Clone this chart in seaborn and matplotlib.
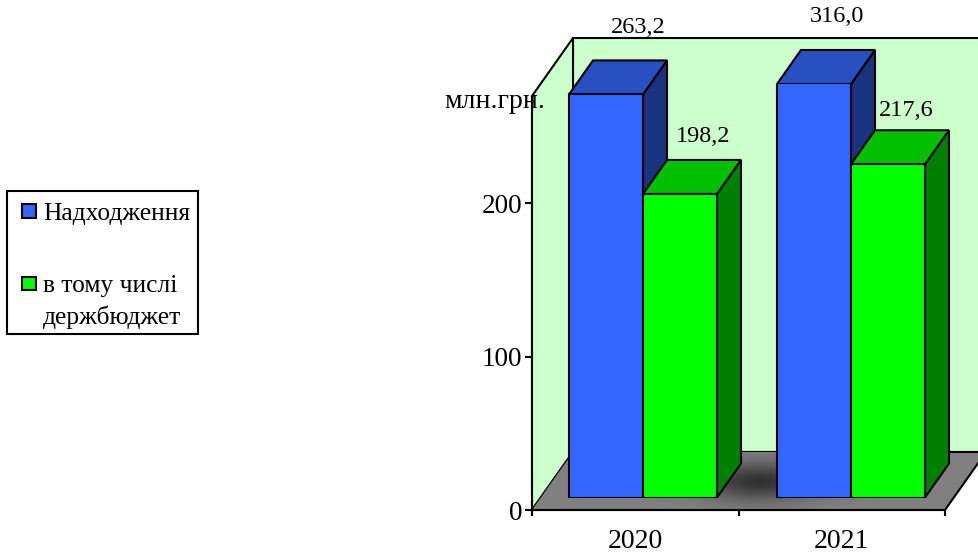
import numpy as np
import pandas as pd
import matplotlib
matplotlib.use("Agg")
import matplotlib.pyplot as plt
from matplotlib.patches import Polygon, Patch
import seaborn as sns

years = ["2020", "2021"]
series_names = ["Надходження", "в тому числі\nдержбюджет"]
income = [263.2, 316.0]
state_budget = [198.2, 217.6]
y_ticks = [0, 100, 200]
unit_label = "млн.грн."

Y_MAX = 270
W, H = 979, 554
sns.set_theme(style="white")
plt.rcParams["font.family"] = ["Liberation Serif", "DejaVu Serif"]
INK = "black"
LW = 1.5

df = pd.DataFrame({
    "year": years * 2,
    "series": [series_names[0]] * 2 + [series_names[1]] * 2,
    "value": income + state_budget,
})
fronts = {series_names[0]: "#3366FF", series_names[1]: "#00FF00"}
tops = {"#3366FF": "#2850C0", "#00FF00": "#00C000"}
sides = {"#3366FF": "#1A337F", "#00FF00": "#008000"}

fig = plt.figure(figsize=(W / 100, H / 100), dpi=100, facecolor="white")


def axes_box(l, bottom, r, top):
    return [l / W, 1 - bottom / H, (r - l) / W, (bottom - top) / H]


ax = fig.add_axes(axes_box(532, 510, 945, 96), zorder=1)
ax.set_xlim(-0.5, 1.5)
ax.set_ylim(0, Y_MAX)
ax.patch.set_visible(False)
px_x = 2 / (945 - 532)
px_y = Y_MAX / (510 - 96)

# walls and floor of the 3-D box
dx, dy = 41 * px_x, 58 * px_y
x0, x1 = -0.5, 1.5
back = Polygon([(x0 + dx, dy), (x1 + dx, dy), (x1 + dx, Y_MAX + dy), (x0 + dx, Y_MAX + dy)],
               fc="#CCFFCC", ec=INK, lw=LW, clip_on=False, zorder=1)
side = Polygon([(x0, 0), (x0 + dx, dy), (x0 + dx, Y_MAX + dy), (x0, Y_MAX)],
               fc="#CCFFCC", ec=INK, lw=LW, clip_on=False, zorder=1)
floor = Polygon([(x0, 0), (x1, 0), (x1 + dx, dy), (x0 + dx, dy)],
                fc="#808080", ec=INK, lw=LW, clip_on=False, zorder=2)
for p in (back, side, floor):
    ax.add_patch(p)

# dark shading on the floor
gx = np.linspace(x0, x1 + dx, 300)
gy = np.linspace(0, dy, 80)
GX, GY = np.meshgrid(gx, gy)
cx, cy = x0 + (760 - 532) * px_x, (510 - 482) * px_y
shade = 128 - 78 * np.exp(-(((GX - cx) / (60 * px_x)) ** 2 + ((GY - cy) / (18 * px_y)) ** 2))
img = ax.imshow(shade, cmap="gray", vmin=0, vmax=255, origin="lower", aspect="auto",
                extent=(gx[0], gx[-1], gy[0], gy[-1]), zorder=2.1, interpolation="bilinear")
img.set_clip_path(Polygon(floor.get_xy(), transform=ax.transData))
ax.set_xlim(-0.5, 1.5)
ax.set_ylim(0, Y_MAX)

# axes furniture
for s in ("top", "right"):
    ax.spines[s].set_visible(False)
for s in ("left", "bottom"):
    ax.spines[s].set_color(INK)
    ax.spines[s].set_linewidth(LW)
    ax.spines[s].set_zorder(5)
ax.set_xticks([-0.5, 0.5, 1.5])
ax.set_xticklabels([])
ax.set_xticks([0, 1], labels=years, minor=True)
ax.tick_params(axis="x", which="major", direction="out", length=4.5, width=LW, color=INK, bottom=True)
ax.tick_params(axis="x", which="minor", length=0, labelsize=20, pad=14, labelcolor=INK, bottom=True)
ax.set_yticks(y_ticks)
ax.tick_params(axis="y", direction="inout", length=10, width=LW, color=INK, left=True,
               labelsize=19.5, pad=2, labelcolor=INK)

# bars live in an overlay axes, pushed into the depth of the box
bx = fig.add_axes(axes_box(539, 497.5, 955, 84), zorder=2)
sns.barplot(data=df, x="year", y="value", hue="series", palette=fronts, order=years,
            hue_order=series_names, width=148 / 208, gap=0, saturation=1, legend=False,
            edgecolor=INK, linewidth=LW, ax=bx)
bx.set_xlim(-0.5, 1.5)
bx.set_ylim(0, Y_MAX)
bx.axis("off")

bar_px_x = 2 / 416
bar_px_y = Y_MAX / 413.5
bar_dx, bar_dy = 24 * bar_px_x, 34 * bar_px_y
label_nudge = {263.2: (32, 33), 198.2: (23, 23), 316.0: (23, 34), 217.6: (18, 20)}
bars = sorted(bx.patches, key=lambda b: b.get_x())
for i, bar in enumerate(bars):
    xl, w, h = bar.get_x(), bar.get_width(), bar.get_height()
    ht = min(h, Y_MAX)
    col = matplotlib.colors.to_hex(bar.get_facecolor()).upper()
    z = 3 + 3 * i
    bx.add_patch(Polygon([(xl + w, 0), (xl + w + bar_dx, bar_dy), (xl + w + bar_dx, ht + bar_dy), (xl + w, ht)],
                         fc=sides[col], ec=INK, lw=LW, clip_on=False, zorder=z))
    bx.add_patch(Polygon([(xl, ht), (xl + w, ht), (xl + w + bar_dx, ht + bar_dy), (xl + bar_dx, ht + bar_dy)],
                         fc=tops[col], ec=INK, lw=LW, clip_on=False, zorder=z + 1, joinstyle="miter"))
    bar.set_zorder(z + 2)
    nx, ny = label_nudge[h]
    bx.annotate(f"{h:.1f}".replace(".", ","), (xl + w / 2 + nx * bar_px_x, ht + bar_dy + ny * bar_px_y),
                ha="center", va="center", fontsize=17.5, color=INK, zorder=30, annotation_clip=False)

fig.text(495 / W, 1 - 101 / H, unit_label, ha="center", va="center", fontsize=20, color=INK, zorder=10)

handles = [Patch(facecolor=fronts[n], edgecolor=INK, linewidth=LW, label=n) for n in series_names]
leg = fig.legend(handles=handles, loc="upper left", bbox_to_anchor=(7 / W, 1 - 191 / H),
                 bbox_transform=fig.transFigure, frameon=True, fancybox=False, fontsize=18.4,
                 edgecolor=INK, framealpha=1, handlelength=0.8, handleheight=0.8, handletextpad=0.31,
                 labelspacing=1.98, borderpad=0.3, borderaxespad=0, labelcolor=INK)
leg.get_frame().set_linewidth(LW)
for t in leg.get_texts():
    t.set_linespacing(1.45)
    t.set_y(-2.5)
hs = leg.get_patches()
for h, lift in zip(hs, (0, 13.5)):
    h.set_x(h.get_x() + 5.06)
    h.set_width(10)
    h.set_height(10)
    h.set_y(h.get_y() + lift)

fig.savefig("out.png", dpi=100, facecolor="white")
